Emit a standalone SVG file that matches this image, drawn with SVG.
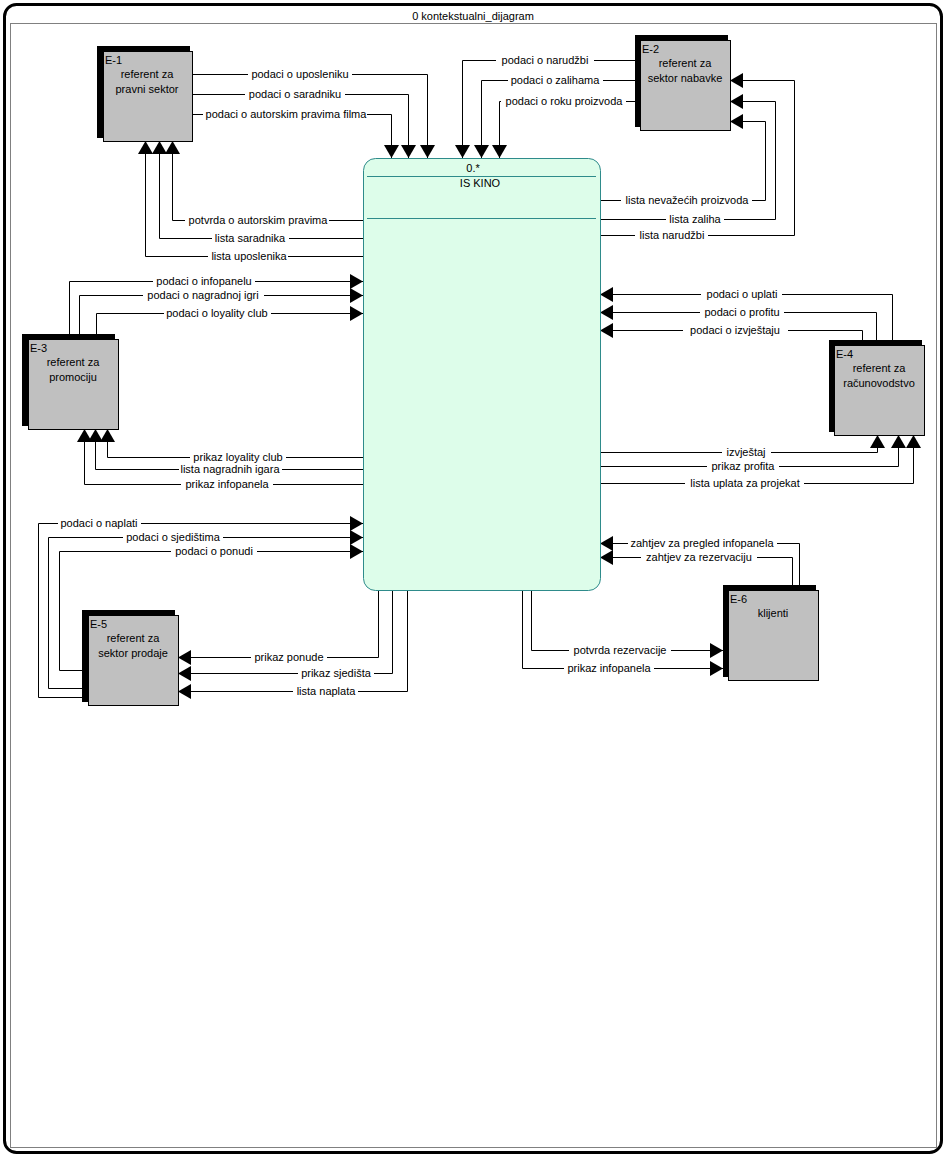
<svg xmlns="http://www.w3.org/2000/svg" width="946" height="1157" viewBox="0 0 946 1157">
<style>
text{font-family:"Liberation Sans",Arial,sans-serif;font-size:11px;fill:#000}
.lbl{text-anchor:middle}
.bg{fill:#fff;stroke:none}
.c{fill:none;stroke:#000;stroke-width:1;marker-end:url(#arr)}
.sh{fill:#000}
.box{fill:#c0c0c0;stroke:#000;stroke-width:1}
.ctr{text-anchor:middle}
</style>
<defs>
<marker id="arr" markerUnits="userSpaceOnUse" markerWidth="15" markerHeight="15" refX="13" refY="7.5" orient="auto">
<path d="M0,0 L13,7.5 L0,15 z" fill="#000"/>
</marker>
</defs>
<rect x="0" y="0" width="946" height="1157" fill="#fff"/>
<g id="frame">
<rect x="4.5" y="4.5" width="937" height="1148" rx="12" ry="12" fill="#fff" stroke="#000" stroke-width="3"/>
<rect x="10.5" y="23.5" width="926" height="1124" fill="none" stroke="#808080" stroke-width="1"/>
<text x="473" y="20" class="ctr">0 kontekstualni_dijagram</text>
</g>
<g id="connectors">
<!-- E-1 -->
<path class="c" d="M192,74.5 H427.5 V158"/>
<path class="c" d="M192,94.5 H408.5 V158"/>
<path class="c" d="M192,114.5 H391.5 V158"/>
<path class="c" d="M363,220.5 H172.5 V141"/>
<path class="c" d="M363,238.5 H159.5 V141"/>
<path class="c" d="M363,256.5 H145.5 V141"/>
<!-- E-2 -->
<path class="c" d="M635,60.5 H462.5 V158"/>
<path class="c" d="M635,80.5 H481.5 V158"/>
<path class="c" d="M635,101.5 H499.5 V158"/>
<path class="c" d="M600,235.5 H794.5 V80.5 H730"/>
<path class="c" d="M600,219.5 H775.5 V101.5 H730"/>
<path class="c" d="M600,200.5 H765.5 V121.5 H730"/>
<!-- E-3 -->
<path class="c" d="M69.5,334 V281.5 H363"/>
<path class="c" d="M79.5,334 V295.5 H363"/>
<path class="c" d="M96.5,334 V313.5 H363"/>
<path class="c" d="M363,457.5 H107.5 V429"/>
<path class="c" d="M363,469.5 H95.5 V429"/>
<path class="c" d="M363,484.5 H84.5 V429"/>
<!-- E-4 -->
<path class="c" d="M892.5,340 V294.5 H600"/>
<path class="c" d="M876.5,340 V312.5 H600"/>
<path class="c" d="M862.5,340 V330.5 H600"/>
<path class="c" d="M600,452.5 H877.5 V435"/>
<path class="c" d="M600,466.5 H898.5 V435"/>
<path class="c" d="M600,483.5 H913.5 V435"/>
<!-- E-5 -->
<path class="c" d="M82,697.5 H38.5 V523.5 H363"/>
<path class="c" d="M82,688.5 H48.5 V537.5 H363"/>
<path class="c" d="M82,670.5 H59.5 V551.5 H363"/>
<path class="c" d="M378.5,590 V657.5 H178"/>
<path class="c" d="M392.5,590 V673.5 H178"/>
<path class="c" d="M407.5,590 V691.5 H178"/>
<!-- E-6 -->
<path class="c" d="M799.5,585 V543.5 H600"/>
<path class="c" d="M792.5,585 V557.5 H600"/>
<path class="c" d="M522.5,590 V668.5 H723"/>
<path class="c" d="M531.5,590 V650.5 H723"/>
<!-- label backgrounds -->
<rect class="bg" x="248" y="68" width="104" height="12"/>
<rect class="bg" x="245" y="88" width="100" height="12"/>
<rect class="bg" x="203" y="108" width="164" height="12"/>
<rect class="bg" x="185" y="214" width="144" height="12"/>
<rect class="bg" x="212" y="232" width="77" height="12"/>
<rect class="bg" x="208" y="250" width="80" height="12"/>
<rect class="bg" x="496" y="54" width="98" height="12"/>
<rect class="bg" x="508" y="74" width="95" height="12"/>
<rect class="bg" x="501" y="95" width="125" height="12"/>
<rect class="bg" x="635" y="229" width="73" height="12"/>
<rect class="bg" x="666" y="213" width="58" height="12"/>
<rect class="bg" x="621" y="194" width="131" height="12"/>
<rect class="bg" x="153" y="275" width="102" height="12"/>
<rect class="bg" x="143" y="289" width="121" height="12"/>
<rect class="bg" x="164" y="307" width="107" height="12"/>
<rect class="bg" x="190" y="451" width="96" height="12"/>
<rect class="bg" x="179" y="463" width="103" height="12"/>
<rect class="bg" x="181" y="478" width="92" height="12"/>
<rect class="bg" x="701" y="288" width="81" height="12"/>
<rect class="bg" x="700" y="306" width="84" height="12"/>
<rect class="bg" x="683" y="324" width="105" height="12"/>
<rect class="bg" x="722" y="446" width="49" height="12"/>
<rect class="bg" x="707" y="460" width="72" height="12"/>
<rect class="bg" x="685" y="477" width="119" height="12"/>
<rect class="bg" x="58" y="517" width="83" height="12"/>
<rect class="bg" x="123" y="531" width="100" height="12"/>
<rect class="bg" x="171" y="545" width="86" height="12"/>
<rect class="bg" x="251" y="651" width="76" height="12"/>
<rect class="bg" x="298" y="667" width="76" height="12"/>
<rect class="bg" x="293" y="685" width="65" height="12"/>
<rect class="bg" x="628" y="537" width="149" height="12"/>
<rect class="bg" x="641" y="551" width="116" height="12"/>
<rect class="bg" x="564" y="662" width="90" height="12"/>
<rect class="bg" x="569" y="644" width="102" height="12"/>
<!-- labels -->
<text class="lbl" x="300" y="78">podaci o uposleniku</text>
<text class="lbl" x="295" y="98">podaci o saradniku</text>
<text class="lbl" x="286" y="118">podaci o autorskim pravima filma</text>
<text class="lbl" x="258" y="224">potvrda o autorskim pravima</text>
<text class="lbl" x="250" y="242">lista saradnika</text>
<text class="lbl" x="249" y="260">lista uposlenika</text>
<text class="lbl" x="545" y="64">podaci o narudžbi</text>
<text class="lbl" x="555" y="84">podaci o zalihama</text>
<text class="lbl" x="564" y="105">podaci o roku proizvoda</text>
<text class="lbl" x="672" y="239">lista narudžbi</text>
<text class="lbl" x="695" y="223">lista zaliha</text>
<text class="lbl" x="687" y="204">lista nevažećih proizvoda</text>
<text class="lbl" x="204" y="285">podaci o infopanelu</text>
<text class="lbl" x="203" y="299">podaci o nagradnoj igri</text>
<text class="lbl" x="217" y="317">podaci o loyality club</text>
<text class="lbl" x="238" y="461">prikaz loyality club</text>
<text class="lbl" x="230" y="473">lista nagradnih igara</text>
<text class="lbl" x="227" y="488">prikaz infopanela</text>
<text class="lbl" x="742" y="298">podaci o uplati</text>
<text class="lbl" x="742" y="316">podaci o profitu</text>
<text class="lbl" x="735" y="334">podaci o izvještaju</text>
<text class="lbl" x="746" y="456">izvještaj</text>
<text class="lbl" x="743" y="470">prikaz profita</text>
<text class="lbl" x="745" y="487">lista uplata za projekat</text>
<text class="lbl" x="99" y="527">podaci o naplati</text>
<text class="lbl" x="173" y="541">podaci o sjedištima</text>
<text class="lbl" x="214" y="555">podaci o ponudi</text>
<text class="lbl" x="289" y="661">prikaz ponude</text>
<text class="lbl" x="336" y="677">prikaz sjedišta</text>
<text class="lbl" x="326" y="695">lista naplata</text>
<text class="lbl" x="702" y="547">zahtjev za pregled infopanela</text>
<text class="lbl" x="699" y="561">zahtjev za rezervaciju</text>
<text class="lbl" x="609" y="672">prikaz infopanela</text>
<text class="lbl" x="620" y="654">potvrda rezervacije</text>
</g>
<g id="process-0">
<rect x="363.5" y="158.5" width="237" height="432" rx="12" ry="12" fill="#ddfdea" stroke="#2e8b8b" stroke-width="1"/>
<line x1="367" y1="176.5" x2="596" y2="176.5" stroke="#2e8b8b"/>
<line x1="367" y1="218.5" x2="596" y2="218.5" stroke="#2e8b8b"/>
<text x="473" y="172" class="ctr">0.*</text>
<text x="480" y="187" class="ctr">IS KINO</text>
</g>
<g id="E-1">
<rect class="sh" x="97" y="46" width="93" height="92"/>
<rect class="box" x="103.5" y="51.5" width="89" height="90"/>
<text x="105" y="64">E-1</text>
<text x="147" y="78" class="ctr">referent za</text>
<text x="147" y="93" class="ctr">pravni sektor</text>
</g>
<g id="E-2">
<rect class="sh" x="635" y="35" width="93" height="92"/>
<rect class="box" x="640.5" y="40.5" width="90" height="90"/>
<text x="642" y="53">E-2</text>
<text x="685" y="67" class="ctr">referent za</text>
<text x="685" y="82" class="ctr">sektor nabavke</text>
</g>
<g id="E-3">
<rect class="sh" x="22" y="334" width="93" height="92"/>
<rect class="box" x="28.5" y="339.5" width="90" height="90"/>
<text x="30" y="352">E-3</text>
<text x="73" y="366" class="ctr">referent za</text>
<text x="73" y="381" class="ctr">promociju</text>
</g>
<g id="E-4">
<rect class="sh" x="829" y="340" width="93" height="92"/>
<rect class="box" x="834.5" y="345.5" width="90" height="90"/>
<text x="836" y="358">E-4</text>
<text x="879" y="372" class="ctr">referent za</text>
<text x="879" y="387" class="ctr">računovodstvo</text>
</g>
<g id="E-5">
<rect class="sh" x="82" y="610" width="93" height="92"/>
<rect class="box" x="88.5" y="615.5" width="90" height="90"/>
<text x="90" y="628">E-5</text>
<text x="133" y="642" class="ctr">referent za</text>
<text x="133" y="657" class="ctr">sektor prodaje</text>
</g>
<g id="E-6">
<rect class="sh" x="723" y="585" width="93" height="92"/>
<rect class="box" x="728.5" y="590.5" width="90" height="90"/>
<text x="730" y="603">E-6</text>
<text x="773" y="617" class="ctr">klijenti</text>
</g>
</svg>
